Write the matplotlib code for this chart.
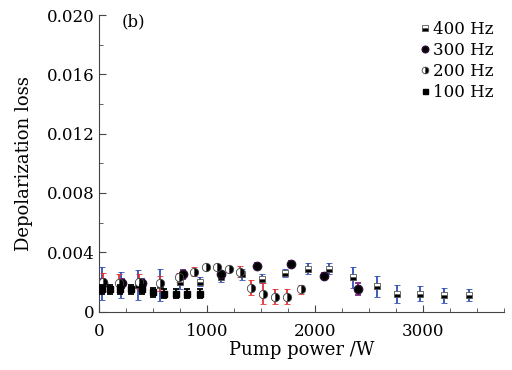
import numpy as np
import matplotlib
matplotlib.use("Agg")
import matplotlib.pyplot as plt
from matplotlib.ticker import MultipleLocator

plt.rcParams['font.family'] = ['DejaVu Serif']

# data (pump power in W, loss)
x400 = [22, 200, 360, 560, 750, 930, 1130, 1320, 1510, 1720, 1930, 2125, 2350, 2570, 2760, 2970, 3200, 3430]
y400 = [0.0019, 0.0018, 0.0018, 0.0018, 0.0020, 0.0020, 0.0023, 0.0025, 0.0022, 0.0026,
        0.0029, 0.0029, 0.0023, 0.0017, 0.0012, 0.0012, 0.0011, 0.0011]
e400 = [0.0011, 0.0009, 0.0010, 0.0011, 0.0005, 0.0003, 0.0003, 0.0004, 0.0003, 0.0003,
        0.0004, 0.0004, 0.0007, 0.0007, 0.0006, 0.0005, 0.0005, 0.0004]

x300 = [30, 210, 400, 780, 1130, 1460, 1780, 2080, 2400]
y300 = [0.0019, 0.0019, 0.0019, 0.0025, 0.0025, 0.0031, 0.0032, 0.0024, 0.0015]
e300 = [0.0003, 0.0003, 0.0003, 0.0003, 0.0002, 0.0002, 0.0002, 0.0002, 0.0004]

x200 = [30, 180, 370, 560, 740, 880, 990, 1090, 1200, 1300, 1410, 1520, 1630, 1740, 1870]
y200 = [0.0020, 0.0019, 0.0020, 0.0019, 0.0023, 0.0027, 0.0030, 0.0030, 0.0029, 0.0027,
        0.0016, 0.0012, 0.0010, 0.0010, 0.0015]
e200 = [0.0006, 0.0006, 0.0005, 0.0005, 0.0003, 0.0003, 0.0001, 0.0001, 0.0002, 0.0004,
        0.0005, 0.0007, 0.0005, 0.0005, 0.0003]

x100 = [22, 100, 194, 293, 395, 497, 601, 712, 813, 934]
y100 = [0.0015, 0.0015, 0.0015, 0.0015, 0.0015, 0.0013, 0.0012, 0.0012, 0.0012, 0.0012]
e100 = [0.0003] * 10

fig = plt.figure(figsize=(5.12, 3.70), dpi=100)
ax = fig.add_axes([0.194, 0.158, 0.79, 0.801])

ms = 5
ax.errorbar(x400, y400, yerr=e400, fmt='s', ms=ms, fillstyle='bottom',
            mfc='black', mfcalt='white', mec='#555555', mew=0.6,
            ecolor='#2e4fb5', elinewidth=1.3, capsize=2.5, capthick=1.3, label='400 Hz', zorder=3)
ax.errorbar(x300, y300, yerr=e300, fmt='o', ms=ms + 1, mfc='black', mec='#2a1030',
            ecolor='#7a2a8a', elinewidth=1.3, capsize=2.5, capthick=1.3, label='300 Hz', zorder=3)
ax.errorbar(x200, y200, yerr=e200, fmt='o', ms=ms + 1, fillstyle='right',
            mfc='black', mfcalt='white', mec='#444444', mew=0.6,
            ecolor='#e03030', elinewidth=1.3, capsize=2.5, capthick=1.3, label='200 Hz', zorder=3)
ax.errorbar(x100, y100, yerr=e100, fmt='s', ms=ms - 0.5, mfc='black', mec='black',
            ecolor='black', elinewidth=1.3, capsize=2.5, capthick=1.3, label='100 Hz', zorder=4)

ax.set_xlim(0, 3750)
ax.set_ylim(0, 0.020)
ax.xaxis.set_major_locator(MultipleLocator(1000))
ax.xaxis.set_minor_locator(MultipleLocator(250))
ax.yaxis.set_major_locator(MultipleLocator(0.004))
ax.yaxis.set_minor_locator(MultipleLocator(0.002))
ax.set_yticks([0, 0.004, 0.008, 0.012, 0.016, 0.020])
ax.set_yticklabels(['0', '0.004', '0.008', '0.012', '0.016', '0.020'])
ax.tick_params(which='both', direction='in', labelsize=12, color='#444444')
ax.tick_params(which='major', length=5)
ax.tick_params(which='minor', length=3)
ax.tick_params(axis='x', pad=8)
for s in ['top', 'right']:
    ax.spines[s].set_visible(False)
for s in ['left', 'bottom']:
    ax.spines[s].set_color('#444444')

ax.set_xlabel('Pump power /W', fontsize=13, labelpad=1)
ax.set_ylabel('Depolarization loss', fontsize=13, labelpad=10)
ax.text(0.055, 1.005, '(b)', transform=ax.transAxes, fontsize=12, va='top')

handles, labels = ax.get_legend_handles_labels()
handles = [h[0] for h in handles]
ax.legend(handles, labels, loc='upper right', bbox_to_anchor=(1.0, 1.015),
          frameon=False, fontsize=12,
          handlelength=0.4, handletextpad=0.3, labelspacing=0.25,
          borderaxespad=0.2, markerscale=0.8)

fig.savefig('out.png', dpi=100)
